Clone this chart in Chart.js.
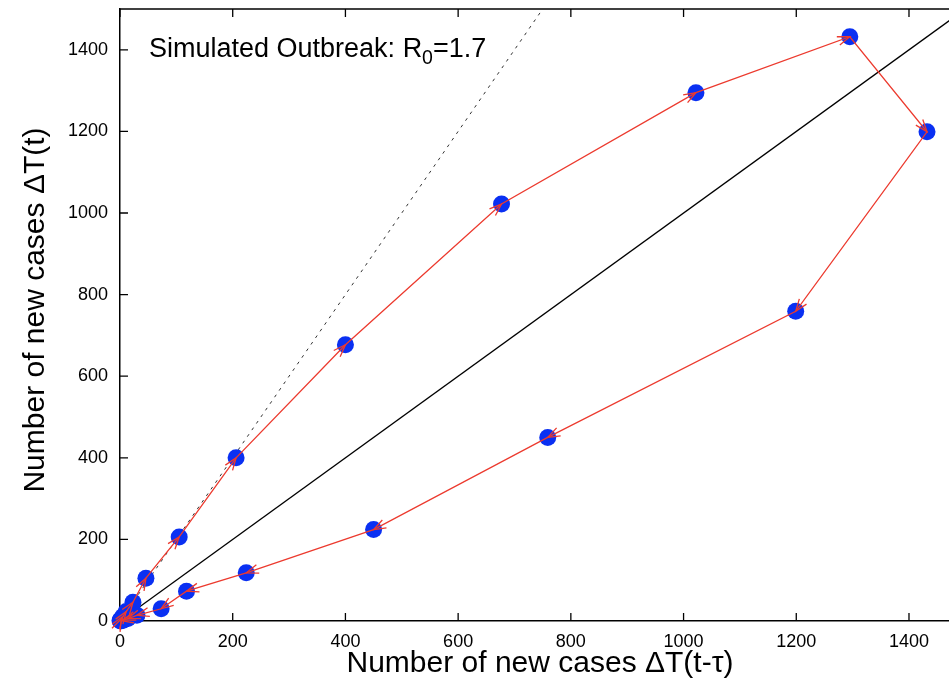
<!DOCTYPE html>
<html>
<head>
<meta charset="utf-8">
<script src="https://cdn.jsdelivr.net/npm/chart.js@4.4.0/dist/chart.umd.min.js"></script>
<style>
  html, body { margin: 0; padding: 0; background: #fff; overflow: hidden; }
  canvas { display: block; }
</style>
</head>
<body>
<canvas id="c" width="949" height="686"></canvas>
<script>
// New cases per generation of the simulated outbreak (R0 = 1.7)
const newCases = [0, 1, 2, 5, 11, 23, 46, 105, 206, 400, 677, 1022, 1295, 1432,
                  1199, 759, 450, 224, 118, 73, 30, 14, 6, 2, 1, 0];

// Axis ticks and ranges
const xTicks = [0, 200, 400, 600, 800, 1000, 1200, 1400];
const yTicks = [0, 200, 400, 600, 800, 1000, 1200, 1400];
const xRange = [0, 1471];
const yRange = [0, 1500];

// Reference lines: y = x (solid) and y = 2x (dotted)
const identitySlope = 1;
const doublingSlope = 2;

// Texts
const xTitle = 'Number of new cases ΔT(t-τ)';
const yTitle = 'Number of new cases ΔT(t)';
const noteMain = 'Simulated Outbreak: R';
const noteSub = '0';
const noteTail = '=1.7';

// Each point pairs the previous generation with the current one
const pairs = newCases.slice(1).map((v, i) => ({ x: newCases[i], y: v }));

const FONT = '"Liberation Sans", Arial, Helvetica, sans-serif';
const RED = '#ec3a2e';
const BLUE = '#0a30f2';

const lineTo = (slope) => [{ x: 0, y: 0 }, { x: yRange[1] / slope, y: yRange[1] }];

// Inward tick marks, top frame line, open arrowheads and text labels
const decorations = {
  id: 'decorations',
  beforeDatasetsDraw(chart) {
    const { ctx, chartArea: a, scales: { x, y } } = chart;
    ctx.save();
    ctx.strokeStyle = '#000';
    ctx.lineWidth = 1.5;
    ctx.beginPath();
    ctx.moveTo(a.left, a.top);
    ctx.lineTo(a.right, a.top);
    ctx.stroke();
    ctx.lineWidth = 1.3;
    ctx.beginPath();
    xTicks.forEach(v => {
      const px = x.getPixelForValue(v);
      ctx.moveTo(px, a.bottom); ctx.lineTo(px, a.bottom - 8);
      ctx.moveTo(px, a.top); ctx.lineTo(px, a.top + 8);
    });
    yTicks.forEach(v => {
      const py = y.getPixelForValue(v);
      ctx.moveTo(a.left, py); ctx.lineTo(a.left + 8, py);
    });
    ctx.stroke();
    ctx.restore();
  },
  afterDatasetsDraw(chart) {
    const { ctx, chartArea: a, scales: { x, y } } = chart;
    ctx.save();
    // arrowheads at the end of each step
    ctx.strokeStyle = RED;
    ctx.lineWidth = 1.3;
    const L = 13, th = 20 * Math.PI / 180;
    for (let i = 1; i < pairs.length; i++) {
      const x0 = x.getPixelForValue(pairs[i - 1].x), y0 = y.getPixelForValue(pairs[i - 1].y);
      const x1 = x.getPixelForValue(pairs[i].x), y1 = y.getPixelForValue(pairs[i].y);
      const dx = x1 - x0, dy = y1 - y0;
      if (Math.hypot(dx, dy) < 1) continue;
      const ang = Math.atan2(dy, dx);
      ctx.beginPath();
      ctx.moveTo(x1 - L * Math.cos(ang - th), y1 - L * Math.sin(ang - th));
      ctx.lineTo(x1, y1);
      ctx.lineTo(x1 - L * Math.cos(ang + th), y1 - L * Math.sin(ang + th));
      ctx.stroke();
    }
    ctx.restore();

    // annotation
    ctx.save();
    ctx.fillStyle = '#000';
    ctx.textBaseline = 'alphabetic';
    ctx.font = '27px ' + FONT;
    let tx = a.left + 29;
    const ty = a.top + 48;
    ctx.fillText(noteMain, tx, ty);
    tx += ctx.measureText(noteMain).width;
    ctx.font = '19.5px ' + FONT;
    ctx.fillText(noteSub, tx, ty + 7);
    tx += ctx.measureText(noteSub).width;
    ctx.font = '27px ' + FONT;
    ctx.fillText(noteTail, tx, ty);

    // axis titles
    ctx.font = '30px ' + FONT;
    ctx.textAlign = 'center';
    ctx.fillText(xTitle, 540, a.bottom + 51);
    ctx.translate(44, (a.top + a.bottom) / 2 - 5);
    ctx.rotate(-Math.PI / 2);
    ctx.fillText(yTitle, 0, 0);
    ctx.restore();
  }
};

new Chart(document.getElementById('c'), {
  type: 'scatter',
  data: {
    datasets: [
      {
        label: 'steps',
        data: pairs,
        showLine: true,
        borderColor: RED,
        borderWidth: 1.3,
        pointRadius: 0,
        clip: false
      },
      {
        label: 'cases',
        data: pairs,
        showLine: false,
        pointRadius: 8.5,
        pointHoverRadius: 8.5,
        pointBackgroundColor: BLUE,
        pointBorderWidth: 0,
        clip: false
      },
      {
        label: 'y = x',
        data: lineTo(identitySlope),
        showLine: true,
        borderColor: '#000',
        borderWidth: 1.3,
        pointRadius: 0
      },
      {
        label: 'y = 2x',
        data: lineTo(doublingSlope),
        showLine: true,
        borderColor: '#333',
        borderWidth: 1,
        borderDash: [3, 5],
        pointRadius: 0
      }
    ]
  },
  options: {
    responsive: false,
    animation: false,
    events: [],
    layout: { autoPadding: false, padding: { top: 9, right: 0, left: 0, bottom: 0 } },
    plugins: { legend: { display: false }, tooltip: { enabled: false } },
    scales: {
      x: {
        type: 'linear',
        min: xRange[0],
        max: xRange[1],
        afterBuildTicks: s => { s.ticks = xTicks.map(v => ({ value: v })); },
        afterFit: s => { s.height = 65; s.paddingLeft = 0; s.paddingRight = 0; },
        ticks: { font: { family: FONT, size: 18 }, color: '#000', padding: 10, maxRotation: 0,
                 callback: v => String(v) },
        grid: { drawOnChartArea: false, drawTicks: false },
        border: { color: '#000', width: 1.5 }
      },
      y: {
        type: 'linear',
        min: yRange[0],
        max: yRange[1],
        afterBuildTicks: s => { s.ticks = yTicks.map(v => ({ value: v })); },
        afterFit: s => { s.width = 120; s.paddingTop = 0; s.paddingBottom = 0; },
        ticks: { font: { family: FONT, size: 18 }, color: '#000', padding: 12,
                 callback: v => String(v) },
        grid: { drawOnChartArea: false, drawTicks: false },
        border: { color: '#000', width: 1.5 }
      }
    }
  },
  plugins: [decorations]
});
</script>
</body>
</html>
